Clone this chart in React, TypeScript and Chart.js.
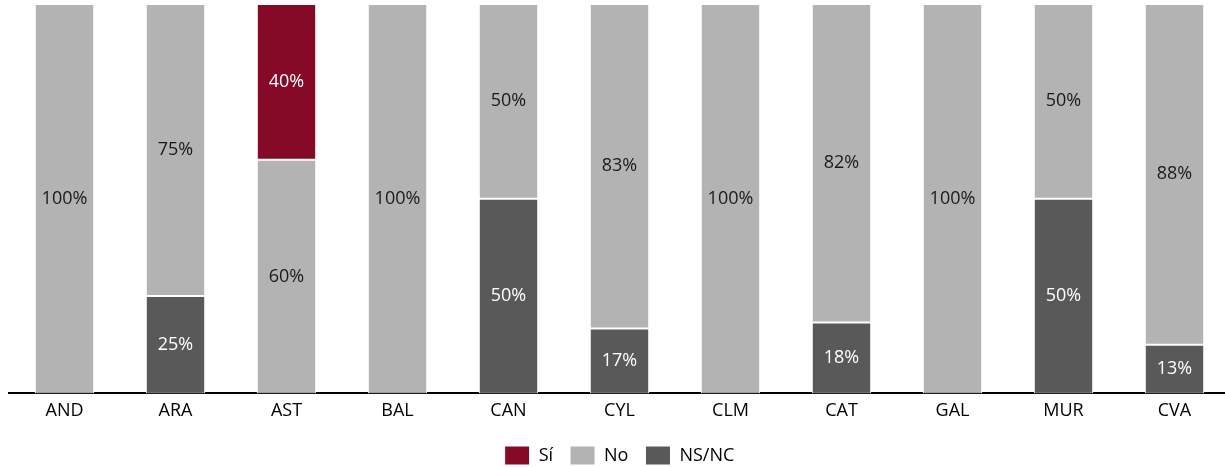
import React, { useEffect, useRef } from "react";
import { Chart, registerables } from "chart.js";

Chart.register(...registerables);

const categories = ["AND", "ARA", "AST", "BAL", "CAN", "CYL", "CLM", "CAT", "GAL", "MUR", "CVA"];
const siValues = [0, 0, 40, 0, 0, 0, 0, 0, 0, 0, 0];
const noValues = [100, 75, 60, 100, 50, 83.33, 100, 81.82, 100, 50, 87.5];
const nsncValues = [0, 25, 0, 0, 50, 16.67, 0, 18.18, 0, 50, 12.5];

const FONT = "'Open Sans', sans-serif";

const labelPlugin = {
  id: "segLabels",
  afterDatasetsDraw(chart: any) {
    const ctx = chart.ctx;
    ctx.save();
    ctx.font = `18px ${FONT}`;
    ctx.textAlign = "center";
    ctx.textBaseline = "middle";
    chart.data.datasets.forEach((ds: any, i: number) => {
      const meta = chart.getDatasetMeta(i);
      meta.data.forEach((bar: any, j: number) => {
        const v = ds.data[j];
        if (!v) return;
        const top = Math.min(bar.y, bar.base);
        const bottom = Math.max(bar.y, bar.base);
        ctx.fillStyle = ds.labelColor;
        ctx.fillText(Math.round(v) + "%", bar.x, (top + bottom) / 2);
      });
    });
    ctx.restore();
  },
};

export default function App() {
  const ref = useRef<HTMLCanvasElement>(null);
  useEffect(() => {
    if (!ref.current) return;
    const chart = new Chart(ref.current, {
      type: "bar",
      data: {
        labels: categories,
        datasets: [
          { label: "NS/NC", data: nsncValues, backgroundColor: "#595959", borderColor: "#ffffff", borderWidth: 1, borderSkipped: false, labelColor: "#ffffff" } as any,
          { label: "No", data: noValues, backgroundColor: "#B3B3B3", borderColor: "#ffffff", borderWidth: 1, borderSkipped: false, labelColor: "#1a1a1a" } as any,
          { label: "Sí", data: siValues, backgroundColor: "#850A28", borderColor: "#ffffff", borderWidth: 1, borderSkipped: false, labelColor: "#ffffff" } as any,
        ],
      },
      options: {
        animation: false,
        responsive: false,
        maintainAspectRatio: false,
        layout: { padding: { left: 9, right: 0, top: 4, bottom: 0 } },
        datasets: { bar: { categoryPercentage: 1, barPercentage: 0.535 } },
        scales: {
          x: {
            stacked: true,
            grid: { display: false, drawTicks: false },
            border: { display: true, color: "#000000", width: 2 },
            ticks: { color: "#000000", font: { family: FONT, size: 18 }, padding: 7 },
          },
          y: {
            stacked: true,
            min: 0,
            max: 100,
            display: false,
          },
        },
        plugins: {
          legend: {
            position: "bottom",
            reverse: true,
            labels: {
              boxWidth: 25,
              boxHeight: 19,
              padding: 17,
              color: "#000000",
              font: { family: FONT, size: 18 },
            },
          },
          tooltip: { enabled: false },
        },
      },
      plugins: [labelPlugin],
    });
    return () => chart.destroy();
  }, []);
  return (
    <div style={{ position: "absolute", left: 0, top: 0, width: 1225, height: 467, overflow: "hidden" }}>
      <canvas ref={ref} width={1230} height={475} />
    </div>
  );
}
